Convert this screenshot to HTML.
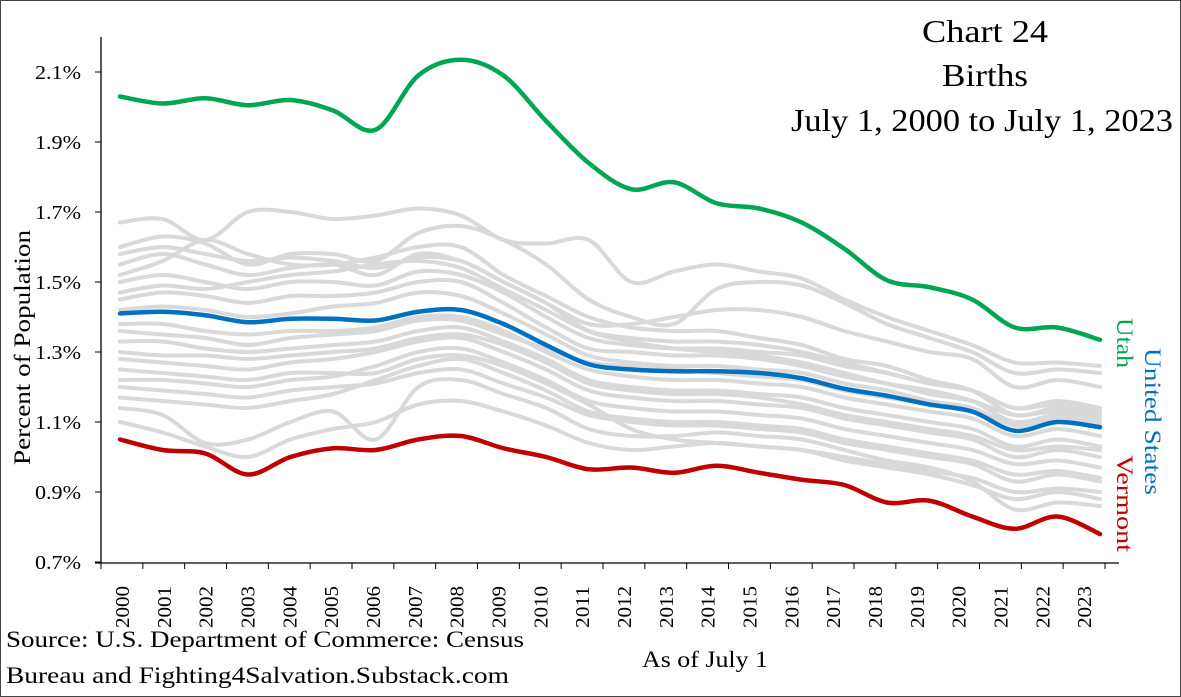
<!DOCTYPE html>
<html><head><meta charset="utf-8"><style>
body{margin:0;background:#fff}
svg{display:block;font-family:"Liberation Serif",serif}
</style></head><body>
<svg id="chart" width="1181" height="697" viewBox="0 0 1181 697">
<rect x="0.5" y="0.5" width="1180" height="696" fill="#fff" stroke="#444"/>
<g id="title" font-size="32" fill="#000">
<text x="922" y="42" textLength="126" lengthAdjust="spacingAndGlyphs">Chart 24</text>
<text x="942" y="86" textLength="86" lengthAdjust="spacingAndGlyphs">Births</text>
<text x="791" y="131" textLength="382" lengthAdjust="spacingAndGlyphs">July 1, 2000 to July 1, 2023</text>
</g>
<text transform="translate(30,465) rotate(-90)" font-size="23" textLength="235" lengthAdjust="spacingAndGlyphs">Percent of Population</text>
<text x="642" y="667" font-size="23" textLength="126" lengthAdjust="spacingAndGlyphs">As of July 1</text>
<text x="6" y="647" font-size="23" textLength="518" lengthAdjust="spacingAndGlyphs">Source: U.S. Department of Commerce: Census</text>
<text x="6" y="683" font-size="23" textLength="503" lengthAdjust="spacingAndGlyphs">Bureau and Fighting4Salvation.Substack.com</text>
<g id="axes"></g>
<g id="grey"></g>
<g id="hl"></g>
<text transform="translate(1117,318) rotate(90)" font-size="23" fill="#00a651" textLength="50" lengthAdjust="spacingAndGlyphs">Utah</text>
<text transform="translate(1145,348) rotate(90)" font-size="23" fill="#0070c0" textLength="147" lengthAdjust="spacingAndGlyphs">United States</text>
<text transform="translate(1117,455) rotate(90)" font-size="23" fill="#c00000" textLength="97" lengthAdjust="spacingAndGlyphs">Vermont</text>
</svg>
<script>
const years = [2000,2001,2002,2003,2004,2005,2006,2007,2008,2009,2010,2011,2012,2013,2014,2015,2016,2017,2018,2019,2020,2021,2022,2023];
const yTicks = [0.7,0.9,1.1,1.3,1.5,1.7,1.9,2.1];
const utah = [2.03,2.01,2.025,2.005,2.02,1.99,1.935,2.09,2.135,2.09,1.96,1.84,1.765,1.785,1.725,1.71,1.67,1.595,1.505,1.485,1.45,1.37,1.37,1.335];
const unitedStates = [1.41,1.415,1.405,1.385,1.395,1.395,1.39,1.415,1.42,1.38,1.32,1.265,1.25,1.245,1.245,1.24,1.225,1.195,1.175,1.15,1.13,1.075,1.1,1.085];
const vermont = [1.05,1.02,1.01,0.95,1.0,1.025,1.02,1.05,1.06,1.025,1.0,0.965,0.97,0.955,0.975,0.955,0.935,0.92,0.87,0.875,0.83,0.795,0.83,0.78];
const otherStates = [
[1.67,1.68,1.62,1.70,1.70,1.68,1.69,1.71,1.69,1.62,1.61,1.62,1.50,1.53,1.55,1.53,1.51,1.45,1.40,1.36,1.32,1.27,1.27,1.26],
[1.60,1.63,1.61,1.55,1.58,1.58,1.56,1.64,1.66,1.62,1.55,1.45,1.40,1.38,1.48,1.50,1.49,1.44,1.38,1.34,1.30,1.24,1.25,1.24],
[1.55,1.58,1.55,1.52,1.54,1.55,1.52,1.58,1.56,1.50,1.44,1.38,1.38,1.40,1.42,1.42,1.40,1.36,1.33,1.30,1.28,1.20,1.22,1.20],
[1.50,1.52,1.50,1.48,1.50,1.50,1.49,1.53,1.52,1.47,1.40,1.34,1.32,1.31,1.31,1.30,1.29,1.26,1.24,1.21,1.19,1.14,1.16,1.14],
[1.45,1.47,1.46,1.44,1.46,1.46,1.47,1.50,1.50,1.44,1.37,1.31,1.30,1.29,1.29,1.28,1.26,1.23,1.21,1.18,1.16,1.12,1.13,1.11],
[1.38,1.38,1.36,1.35,1.36,1.36,1.37,1.40,1.40,1.36,1.30,1.25,1.23,1.22,1.22,1.21,1.20,1.17,1.15,1.13,1.11,1.06,1.08,1.06],
[1.33,1.33,1.31,1.30,1.31,1.32,1.33,1.36,1.37,1.33,1.28,1.22,1.20,1.19,1.19,1.18,1.17,1.14,1.12,1.10,1.08,1.03,1.05,1.03],
[1.28,1.27,1.26,1.25,1.27,1.28,1.30,1.33,1.34,1.30,1.25,1.19,1.17,1.16,1.16,1.15,1.14,1.11,1.09,1.07,1.05,1.00,1.02,1.00],
[1.22,1.22,1.21,1.20,1.22,1.23,1.26,1.30,1.31,1.27,1.22,1.16,1.14,1.13,1.13,1.12,1.11,1.08,1.06,1.04,1.02,0.98,0.99,0.97],
[1.17,1.16,1.15,1.14,1.16,1.18,1.22,1.26,1.28,1.24,1.19,1.13,1.11,1.10,1.10,1.09,1.08,1.05,1.03,1.01,0.99,0.95,0.96,0.94],
[1.10,1.07,1.03,1.00,1.05,1.08,1.10,1.15,1.16,1.13,1.09,1.04,1.02,1.03,1.04,1.03,1.02,0.99,0.97,0.95,0.92,0.88,0.90,0.88],
[1.14,1.12,1.04,1.05,1.10,1.13,1.05,1.20,1.22,1.18,1.14,1.08,1.06,1.06,1.07,1.06,1.05,1.02,0.99,0.97,0.93,0.85,0.87,0.86],
[1.52,1.56,1.62,1.58,1.55,1.55,1.57,1.60,1.60,1.52,1.46,1.40,1.37,1.36,1.36,1.34,1.32,1.28,1.26,1.22,1.19,1.12,1.14,1.12],
[1.42,1.43,1.42,1.40,1.41,1.43,1.44,1.47,1.46,1.41,1.35,1.29,1.27,1.26,1.26,1.25,1.24,1.21,1.19,1.16,1.14,1.09,1.10,1.09],
[1.25,1.24,1.23,1.22,1.24,1.24,1.24,1.28,1.29,1.26,1.21,1.15,1.08,1.05,1.04,1.03,1.02,1.00,0.98,0.96,0.94,0.90,0.91,0.90],
[1.36,1.35,1.34,1.32,1.34,1.35,1.36,1.39,1.39,1.35,1.31,1.27,1.26,1.25,1.24,1.23,1.22,1.19,1.17,1.15,1.13,1.10,1.11,1.10],
[1.58,1.60,1.58,1.56,1.57,1.56,1.54,1.57,1.56,1.50,1.44,1.36,1.33,1.31,1.30,1.29,1.27,1.24,1.21,1.19,1.16,1.10,1.12,1.10],
[1.30,1.29,1.29,1.28,1.29,1.30,1.31,1.34,1.35,1.32,1.27,1.21,1.19,1.18,1.18,1.17,1.15,1.12,1.10,1.08,1.06,1.02,1.03,1.02],
[1.47,1.49,1.48,1.50,1.52,1.53,1.55,1.56,1.54,1.48,1.42,1.36,1.34,1.33,1.33,1.32,1.30,1.27,1.24,1.21,1.19,1.14,1.15,1.13],
[1.20,1.19,1.18,1.17,1.19,1.20,1.21,1.24,1.25,1.21,1.17,1.12,1.10,1.09,1.09,1.08,1.07,1.04,1.02,1.00,0.98,0.93,0.95,0.93]
];
const NS="http://www.w3.org/2000/svg";
const x0=101, x1=1105, yTop=37, yBase=563;
const step=(x1-x0)/years.length;
function xPos(i){return 120+i*(1100-120)/(years.length-1);}
function yPos(v){return 562-(v-0.7)*350;}
function mk(tag,attrs,parent){const e=document.createElementNS(NS,tag);for(const k in attrs)e.setAttribute(k,attrs[k]);parent.appendChild(e);return e;}
const axes=document.getElementById('axes');
let a=mk('line',{x1:x0,y1:yTop,x2:x0,y2:yBase,stroke:'#000','stroke-width':1.3},axes);


a=mk('line',{x1:x0-6,y1:yBase,x2:x1+14,y2:yBase,stroke:'#000','stroke-width':1.3},axes);


yTicks.forEach(v=>{
  const y=yPos(v);
  let t=mk('line',{x1:x0-6,y1:y,x2:x0,y2:y,stroke:'#000'},axes);
  
  
  let l=mk('text',{x:81,y:y+7,'text-anchor':'end','font-size':20,textLength:46,lengthAdjust:'spacingAndGlyphs'},axes);
  l.textContent=v.toFixed(1)+'%';
  
  
});
for(let i=0;i<=years.length;i++){
  const x=x0+i*step;
  let t=mk('line',{x1:x,y1:yBase,x2:x,y2:yBase+6,stroke:'#000'},axes);
  
  
}
years.forEach((yr,i)=>{
  const x=x0+(i+0.5)*step;
  let l=mk('text',{transform:`translate(${x+7},628) rotate(-90)`,'font-size':20,textLength:42,lengthAdjust:'spacingAndGlyphs'},axes);
  l.textContent=yr;
  
  
});
function pathD(vals){
  const p=vals.map((v,i)=>[xPos(i),yPos(v)]);
  let d=`M${p[0][0]},${p[0][1]}`;
  for(let i=0;i<p.length-1;i++){
    const a0=p[Math.max(0,i-1)],a1=p[i],a2=p[i+1],a3=p[Math.min(p.length-1,i+2)];
    const c1=[a1[0]+(a2[0]-a0[0])/6,a1[1]+(a2[1]-a0[1])/6];
    const c2=[a2[0]-(a3[0]-a1[0])/6,a2[1]-(a3[1]-a1[1])/6];
    d+=`C${c1[0]},${c1[1]} ${c2[0]},${c2[1]} ${a2[0]},${a2[1]}`;
  }
  return d;
}
const grey=document.getElementById('grey');
otherStates.forEach(s=>{
  const p=mk('path',{d:pathD(s),fill:'none',stroke:'#d9d9d9','stroke-width':4,'stroke-linecap':'round'},grey);
  
  
});
const hl=document.getElementById('hl');
let p=mk('path',{d:pathD(utah),fill:'none',stroke:'#00a651','stroke-width':4.5,'stroke-linecap':'round'},hl);


p=mk('path',{d:pathD(unitedStates),fill:'none',stroke:'#0070c0','stroke-width':4.5,'stroke-linecap':'round'},hl);


p=mk('path',{d:pathD(vermont),fill:'none',stroke:'#c00000','stroke-width':4.5,'stroke-linecap':'round'},hl);


</script>
</body></html>
